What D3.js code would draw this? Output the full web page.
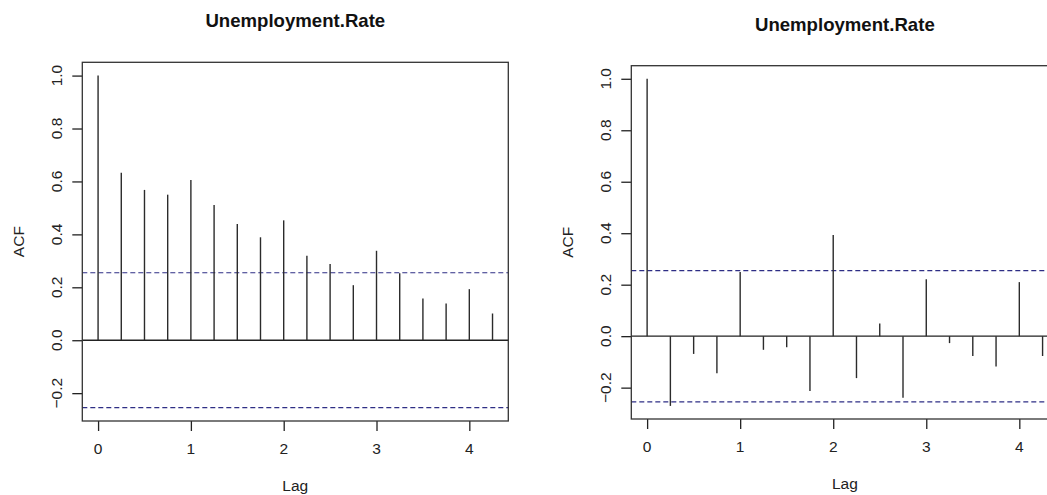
<!DOCTYPE html>
<html>
<head>
<meta charset="utf-8">
<script src="https://cdn.jsdelivr.net/npm/d3@7"></script>
<style>
  html, body { margin: 0; padding: 0; background: #fff; }
  svg { display: block; overflow: hidden; }
  text { font-family: "Liberation Sans", Arial, sans-serif; fill: #222; }
</style>
</head>
<body>
<svg id="chart" width="1047" height="495"></svg>
<script>
// Lags (years, quarterly steps) shared by both correlograms
const lags = [0, 0.25, 0.5, 0.75, 1, 1.25, 1.5, 1.75, 2, 2.25, 2.5, 2.75, 3, 3.25, 3.5, 3.75, 4, 4.25];

// Autocorrelations of the series
const acfLevel = [1.000, 0.633, 0.568, 0.550, 0.605, 0.511, 0.439, 0.389, 0.453, 0.319,
                  0.288, 0.208, 0.338, 0.253, 0.158, 0.139, 0.193, 0.101];

// Autocorrelations after differencing
const acfDiff = [1.000, -0.271, -0.069, -0.144, 0.249, -0.053, -0.043, -0.213, 0.393, -0.163,
                 0.049, -0.239, 0.221, -0.027, -0.077, -0.118, 0.210, -0.077];

// Approximate 95% confidence bound
const confBound = 0.255;

const xTickValues = [0, 1, 2, 3, 4];
const yTickValues = [-0.2, 0, 0.2, 0.4, 0.6, 0.8, 1.0];

const titleText = "Unemployment.Rate";
const xLabel = "Lag";
const yLabel = "ACF";

const svg = d3.select("#chart");

// Plot-region boxes for the two panels
const panels = [
  { values: acfLevel, box: { left: 82.3, right: 508.3, top: 62.3, bottom: 421 } },
  { values: acfDiff,  box: { left: 631.3, right: 1058.4, top: 65.7, bottom: 419 } }
];

function padded(lo, hi) {
  const d = (hi - lo) * 0.04;
  return [lo - d, hi + d];
}

panels.forEach(p => {
  const b = p.box;
  const g = svg.append("g");

  const x = d3.scaleLinear()
    .domain(padded(d3.min(lags), d3.max(lags)))
    .range([b.left, b.right]);
  const y = d3.scaleLinear()
    .domain(padded(Math.min(-confBound, d3.min(p.values)), Math.max(confBound, d3.max(p.values))))
    .range([b.bottom, b.top]);

  // Axes (tick marks only; labels drawn separately for rotation)
  const xAxis = g.append("g")
    .attr("transform", `translate(0,${b.bottom})`)
    .call(d3.axisBottom(x).tickValues(xTickValues).tickSize(10).tickSizeOuter(0).tickFormat(""));
  const yAxis = g.append("g")
    .attr("transform", `translate(${b.left},0)`)
    .call(d3.axisLeft(y).tickValues(yTickValues).tickSize(10).tickSizeOuter(0).tickFormat(""));
  [xAxis, yAxis].forEach(a => {
    a.select(".domain").remove();
    a.selectAll("line").attr("stroke", "#222").attr("stroke-width", 1.3);
  });

  // X tick labels
  g.selectAll(".xlab").data(xTickValues).join("text")
    .attr("x", d => x(d))
    .attr("y", b.bottom + 33)
    .attr("text-anchor", "middle")
    .style("font-size", "15.5px")
    .text(d => d3.format("d")(d));

  // Y tick labels, rotated
  g.selectAll(".ylab").data(yTickValues).join("text")
    .attr("transform", d => `translate(${b.left - 20.6},${y(d)}) rotate(-90)`)
    .attr("text-anchor", "middle")
    .style("font-size", "15.5px")
    .text(d => d3.format(".1f")(d));

  // Zero line
  g.append("line")
    .attr("x1", b.left).attr("x2", b.right)
    .attr("y1", y(0)).attr("y2", y(0))
    .attr("stroke", "#222").attr("stroke-width", 1.3);

  // Confidence bounds
  [confBound, -confBound].forEach(c => {
    g.append("line")
      .attr("x1", b.left).attr("x2", b.right)
      .attr("y1", y(c)).attr("y2", y(c))
      .attr("stroke", "#2e2e85").attr("stroke-width", 1.2)
      .attr("stroke-dasharray", "5,3");
  });

  // ACF spikes
  g.selectAll(".spike").data(lags.map((l, i) => ({ lag: l, v: p.values[i] }))).join("line")
    .attr("x1", d => x(d.lag)).attr("x2", d => x(d.lag))
    .attr("y1", y(0)).attr("y2", d => y(d.v))
    .attr("stroke", "#2b2b2b").attr("stroke-width", 1.4);

  // Frame
  g.append("rect")
    .attr("x", b.left).attr("y", b.top)
    .attr("width", b.right - b.left).attr("height", b.bottom - b.top)
    .attr("fill", "none").attr("stroke", "#333").attr("stroke-width", 1.3);

  // Title and axis labels
  g.append("text")
    .attr("x", (b.left + b.right) / 2)
    .attr("y", b.top - 35)
    .attr("text-anchor", "middle")
    .style("font-size", "18.6px").style("font-weight", "bold").style("fill", "#111")
    .text(titleText);

  g.append("text")
    .attr("x", (b.left + b.right) / 2)
    .attr("y", b.bottom + 70)
    .attr("text-anchor", "middle")
    .style("font-size", "15.5px")
    .text(xLabel);

  g.append("text")
    .attr("transform", `translate(${b.left - 58.5},${(b.top + b.bottom) / 2}) rotate(-90)`)
    .attr("text-anchor", "middle")
    .style("font-size", "15.5px")
    .text(yLabel);
});
</script>
</body>
</html>
